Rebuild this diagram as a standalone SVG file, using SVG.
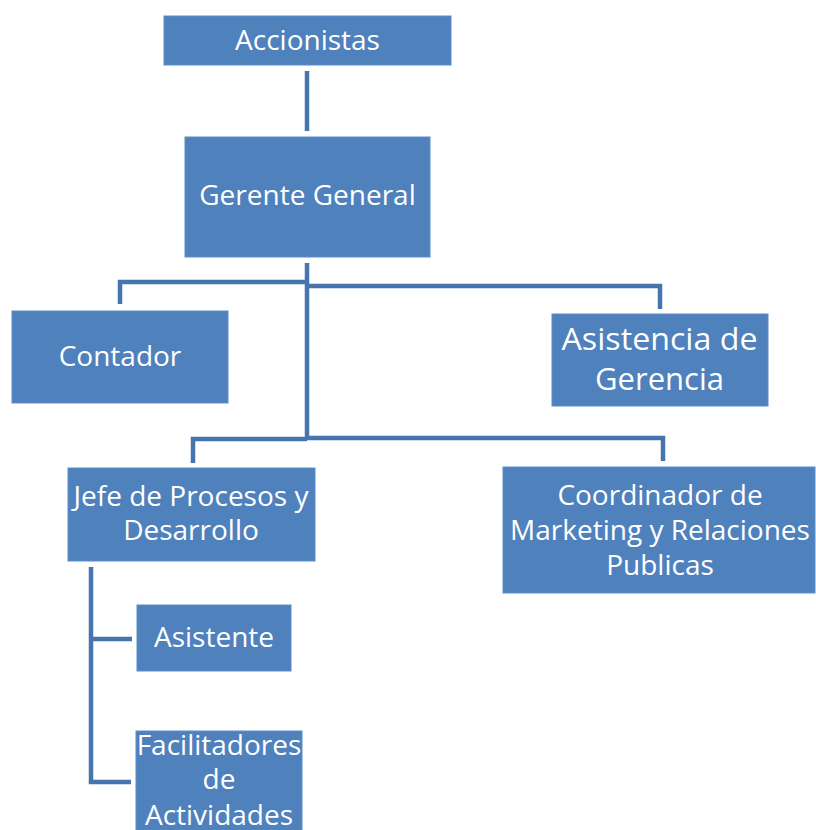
<svg xmlns="http://www.w3.org/2000/svg" width="816" height="830" viewBox="0 0 816 830">
<style>
.box{fill:#4F81BD;stroke:#5B8DC9;stroke-width:1}
.t{font-family:"Open Sans","Liberation Sans",sans-serif;font-size:28px;fill:#FFFFFF;text-anchor:middle}
.big{font-size:31px}
.c{fill:none;stroke:#4674AD;stroke-width:4.5;stroke-linecap:butt;stroke-linejoin:miter}
</style>
<rect width="816" height="830" fill="#FFFFFF"/>
<g id="connectors">
<path class="c" d="M307,71 V131"/>
<path class="c" d="M307,263 V440"/>
<path class="c" d="M120,304 V282 H307"/>
<path class="c" d="M307,286 H660 V309"/>
<path class="c" d="M193,463 V439 H307"/>
<path class="c" d="M307,438 H663 V461"/>
<path class="c" d="M91,567 V782 H131"/>
<path class="c" d="M91,639 H132"/>
</g>
<g id="accionistas">
<rect class="box" x="164" y="16" width="287" height="49"/>
<text class="t" x="307.5" y="50">Accionistas</text>
</g>
<g id="gerente-general">
<rect class="box" x="185" y="137" width="245" height="120"/>
<text class="t" x="307.5" y="205">Gerente General</text>
</g>
<g id="contador">
<rect class="box" x="12" y="311" width="216" height="92"/>
<text class="t" x="120" y="366">Contador</text>
</g>
<g id="asistencia-gerencia">
<rect class="box" x="552" y="314" width="216" height="92"/>
<text class="t big" x="659.5" y="350" textLength="196" lengthAdjust="spacingAndGlyphs">Asistencia de</text>
<text class="t big" x="659.5" y="390">Gerencia</text>
</g>
<g id="jefe-procesos">
<rect class="box" x="68" y="468" width="247" height="93"/>
<text class="t" x="191" y="506">Jefe de Procesos y</text>
<text class="t" x="191" y="540">Desarrollo</text>
</g>
<g id="coordinador-marketing">
<rect class="box" x="503" y="467" width="312" height="126"/>
<text class="t" x="660" y="505">Coordinador de</text>
<text class="t" x="660" y="540">Marketing y Relaciones</text>
<text class="t" x="660" y="575">Publicas</text>
</g>
<g id="asistente">
<rect class="box" x="137" y="605" width="154" height="66"/>
<text class="t" x="214" y="647">Asistente</text>
</g>
<g id="facilitadores">
<rect class="box" x="136" y="731" width="166" height="110"/>
<text class="t" x="219" y="755">Facilitadores</text>
<text class="t" x="219" y="789">de</text>
<text class="t" x="219" y="825">Actividades</text>
</g>
</svg>
